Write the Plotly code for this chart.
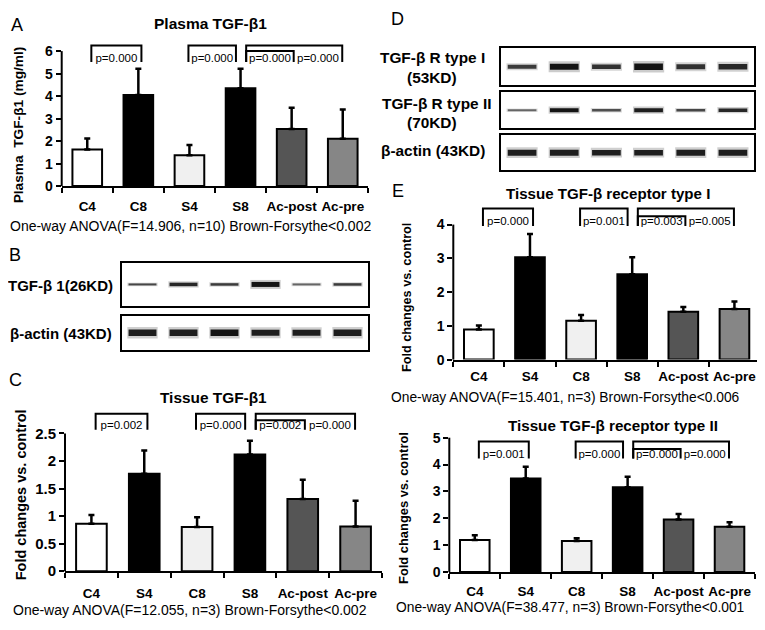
import plotly.graph_objects as go

W, H = 765, 630
FONT = "Liberation Sans"
OFFX, OFFY = 8, 8  # page body margin offset

# ---------------- data ----------------
plasma_categories = ["C4", "C8", "S4", "S8", "Ac-post", "Ac-pre"]
tissue_categories = ["C4", "S4", "C8", "S8", "Ac-post", "Ac-pre"]

plasma_tgfb1_mean = [1.63, 4.05, 1.37, 4.35, 2.54, 2.10]
plasma_tgfb1_sd = [0.49, 1.17, 0.46, 0.87, 0.94, 1.31]
plasma_pvalues = ["p=0.000", "p=0.000", "p=0.000", "p=0.000"]

tissue_tgfb1_mean = [0.86, 1.77, 0.80, 2.12, 1.31, 0.81]
tissue_tgfb1_sd = [0.16, 0.42, 0.18, 0.25, 0.35, 0.47]
tissue_tgfb1_pvalues = ["p=0.002", "p=0.000", "p=0.002", "p=0.000"]

receptor1_mean = [0.89, 3.03, 1.15, 2.53, 1.42, 1.50]
receptor1_sd = [0.12, 0.69, 0.17, 0.50, 0.14, 0.22]
receptor1_pvalues = ["p=0.000", "p=0.001", "p=0.003", "p=0.005"]

receptor2_mean = [1.19, 3.48, 1.16, 3.16, 1.96, 1.69]
receptor2_sd = [0.18, 0.44, 0.10, 0.39, 0.20, 0.16]
receptor2_pvalues = ["p=0.001", "p=0.000", "p=0.000", "p=0.000"]

# western blot band strength per lane (thickness px, darkness 0-1)
blot_tgfb1_thick = [2.0, 3.5, 2.5, 5.0, 2.0, 2.5]
blot_tgfb1_dark = [0.75, 0.9, 0.8, 1.0, 0.6, 0.8]
blot_actinB_thick = [6.5, 6.5, 6.5, 6.0, 6.0, 6.5]
blot_actinB_dark = [0.95, 0.95, 1.0, 0.95, 0.95, 0.95]
blot_r1_thick = [4.0, 6.0, 4.5, 6.5, 5.0, 5.5]
blot_r1_dark = [0.8, 1.0, 0.85, 1.0, 0.85, 0.9]
blot_r2_thick = [2.0, 4.0, 2.5, 4.0, 2.5, 3.5]
blot_r2_dark = [0.6, 1.0, 0.7, 0.95, 0.75, 0.9]
blot_actinD_thick = [6.0, 6.0, 5.5, 5.5, 6.0, 6.0]
blot_actinD_dark = [0.95, 0.95, 0.95, 0.95, 0.95, 0.95]

bar_colors = ["#ffffff", "#000000", "#f0f0f0", "#000000", "#555555", "#868686"]


def px(x):
    return (x - OFFX) / W


def py(y):
    return 1 - (y - OFFY) / H


fig = go.Figure()
shapes = []
annotations = []
layout = {}


def ann(text, x, y, size, bold=False, angle=0, xanchor="center"):
    annotations.append(dict(
        text=("<b>%s</b>" % text) if bold else text,
        x=px(x), y=py(y), xref="paper", yref="paper",
        xanchor=xanchor, yanchor="middle", showarrow=False, textangle=angle,
        font=dict(family=FONT, size=size, color="black")))


bar_panels = [
    dict(i=1, cats=plasma_categories, mean=plasma_tgfb1_mean, sd=plasma_tgfb1_sd,
         pv=plasma_pvalues, yt=[0, 1, 2, 3, 4, 5, 6], ytt=["0", "1", "2", "3", "4", "5", "6"],
         xl=61.7, xr=368.3, y0=183.3, ytm=45.0, ytv=6, yext=6.45,
         br=(6.25, 6.0, 5.52, 5.65), stand=7, yfs=14),
    dict(i=2, cats=tissue_categories, mean=tissue_tgfb1_mean, sd=tissue_tgfb1_sd,
         pv=tissue_tgfb1_pvalues, yt=[0, 0.5, 1, 1.5, 2, 2.5],
         ytt=["0", "0.5", "1", "1.5", "2", "2.5"],
         xl=65.0, xr=382.0, y0=577.7, ytm=436.7, ytv=2.5, yext=2.95,
         br=(2.86, 2.74, 2.57, 2.63), stand=9, yfs=15),
    dict(i=3, cats=tissue_categories, mean=receptor1_mean, sd=receptor1_sd,
         pv=receptor1_pvalues, yt=[0, 1, 2, 3, 4], ytt=["0", "1", "2", "3", "4"],
         xl=453.3, xr=760.0, y0=361.0, ytm=222.7, ytv=4, yext=4.6,
         br=(4.48, 4.25, 3.96, 4.08), stand=3, yfs=14),
    dict(i=4, cats=tissue_categories, mean=receptor2_mean, sd=receptor2_sd,
         pv=receptor2_pvalues, yt=[0, 1, 2, 3, 4, 5], ytt=["0", "1", "2", "3", "4", "5"],
         xl=449.3, xr=755.0, y0=578.7, ytm=441.0, ytv=5, yext=5.03,
         br=(4.86, 4.58, 4.23, 4.35), stand=6, yfs=14),
]

# bracket leg positions (category units)
B1 = (0.08, 1.06)
B2 = (1.98, 2.91)
BIN = (3.11, 4.04)
BOUT = 4.99

for p in bar_panels:
    i = p["i"]
    xname = "xaxis" if i == 1 else "xaxis%d" % i
    yname = "yaxis" if i == 1 else "yaxis%d" % i
    xr_ = "x" if i == 1 else "x%d" % i
    yr_ = "y" if i == 1 else "y%d" % i
    pos = list(range(len(p["cats"])))
    fig.add_trace(go.Bar(
        x=pos, y=p["mean"], width=0.58, xaxis=xr_, yaxis=yr_,
        marker=dict(color=bar_colors, line=dict(color="black", width=2)),
        error_y=dict(type="data", symmetric=False, array=p["sd"],
                     arrayminus=[0] * len(pos), color="black", thickness=2.5, width=3),
        showlegend=False, hoverinfo="skip"))
    top, inner, leg, ty = p["br"]
    bx = [B1[0], B1[0], B1[1], B1[1], None,
          B2[0], B2[0], B2[1], B2[1], None,
          BIN[0], BIN[0], BIN[1], BIN[1], None,
          BIN[0], BIN[0], BOUT, BOUT]
    by = [leg, top, top, leg, None,
          leg, top, top, leg, None,
          leg, inner, inner, leg, None,
          leg, top, top, leg]
    fig.add_trace(go.Scatter(x=bx, y=by, mode="lines", xaxis=xr_, yaxis=yr_,
                             line=dict(color="black", width=2), showlegend=False,
                             hoverinfo="skip"))
    tx = [(B1[0] + B1[1]) / 2, (B2[0] + B2[1]) / 2, (BIN[0] + BIN[1]) / 2,
          (BIN[1] + BOUT) / 2]
    fig.add_trace(go.Scatter(x=tx, y=[ty] * 4, text=p["pv"], mode="text",
                             xaxis=xr_, yaxis=yr_, cliponaxis=False,
                             textfont=dict(family=FONT, size=11.5, color="black"),
                             showlegend=False, hoverinfo="skip"))
    toppx = p["y0"] - (p["y0"] - p["ytm"]) * p["yext"] / p["ytv"]
    layout[xname] = dict(
        domain=[px(p["xl"]), px(p["xr"])], range=[-0.5, len(pos) - 0.5],
        anchor=yr_, tickvals=pos, ticktext=p["cats"], ticks="",
        showline=True, linecolor="black", linewidth=2, showgrid=False, zeroline=False,
        ticklabelstandoff=p["stand"],
        tickfont=dict(family=FONT, size=13.5, color="black", weight="bold"),
        minor=dict(tickvals=[k - 0.5 for k in range(len(pos) + 1)], ticks="outside",
                   ticklen=5, tickwidth=2, tickcolor="black", showgrid=False))
    layout[yname] = dict(
        domain=[py(p["y0"]), py(toppx)], range=[0, p["yext"]], anchor=xr_,
        tickvals=p["yt"], ticktext=p["ytt"], ticks="outside", ticklen=5, tickwidth=2,
        tickcolor="black", showline=False, showgrid=False, zeroline=False,
        tickfont=dict(family=FONT, size=p["yfs"], color="black", weight="bold"))
    shapes.append(dict(type="line", xref="%s domain" % xr_, yref="%s domain" % yr_,
                       x0=0, x1=0, y0=0, y1=p["ytv"] / p["yext"],
                       line=dict(color="black", width=2)))

# ---------------- blots ----------------
blots = [
    dict(i=5, thick=blot_tgfb1_thick, dark=blot_tgfb1_dark, box=(122, 368, 262, 306)),
    dict(i=6, thick=blot_actinB_thick, dark=blot_actinB_dark, box=(122, 368, 316, 351)),
    dict(i=7, thick=blot_r1_thick, dark=blot_r1_dark, box=(501, 754, 42, 80)),
    dict(i=8, thick=blot_r2_thick, dark=blot_r2_dark, box=(501, 754, 87, 124)),
    dict(i=9, thick=blot_actinD_thick, dark=blot_actinD_dark, box=(501, 754, 131, 167)),
]
for b in blots:
    i = b["i"]
    x0, x1, y0, y1 = b["box"]
    for lane, (t, d) in enumerate(zip(b["thick"], b["dark"])):
        fig.add_trace(go.Scatter(x=[lane - 0.37, lane + 0.37], y=[0, 0], mode="lines",
                                 xaxis="x%d" % i, yaxis="y%d" % i,
                                 line=dict(color="rgba(0,0,0,%.2f)" % (0.2 * d),
                                           width=t * 1.8),
                                 showlegend=False, hoverinfo="skip"))
        fig.add_trace(go.Scatter(x=[lane - 0.34, lane + 0.34], y=[0, 0], mode="lines",
                                 xaxis="x%d" % i, yaxis="y%d" % i,
                                 line=dict(color="rgba(20,20,20,%.2f)" % d, width=t),
                                 showlegend=False, hoverinfo="skip"))
    layout["xaxis%d" % i] = dict(domain=[px(x0), px(x1)], range=[-0.5, 5.5],
                                 anchor="y%d" % i, showline=True, mirror=True,
                                 linecolor="black", linewidth=2, ticks="",
                                 showticklabels=False, showgrid=False, zeroline=False)
    layout["yaxis%d" % i] = dict(domain=[py(y1), py(y0)], range=[-1, 1],
                                 anchor="x%d" % i, showline=True, mirror=True,
                                 linecolor="black", linewidth=2, ticks="",
                                 showticklabels=False, showgrid=False, zeroline=False)

# ---------------- texts ----------------
ann("A", 17, 18, 18)
ann("Plasma TGF-β1", 210, 17, 15.5, bold=True)
ann("Plasma  TGF-β1 (mg/ml)", 18, 121, 13.7, bold=True, angle=-90)
ann("One-way ANOVA(F=14.906, n=10) Brown-Forsythe<0.002", 190, 224, 14.0)

ann("B", 15, 254, 18)
ann("TGF-β 1(26KD)", 60.5, 285, 15, bold=True)
ann("β-actin (43KD)", 60.5, 334, 15, bold=True)

ann("C", 16, 382, 18)
ann("Tissue TGF-β1", 213.5, 400, 15.4, bold=True)
ann("Fold changes vs. control", 21, 500, 14.5, bold=True, angle=-90)
ann("One-way ANOVA(F=12.055, n=3) Brown-Forsythe<0.002", 190, 617, 14.0)

ann("D", 397, 12, 18)
ann("TGF-β R type I", 432, 52, 15.4, bold=True)
ann("(53KD)", 432, 72, 15.4, bold=True)
ann("TGF-β R type II", 436, 99, 15.4, bold=True)
ann("(70KD)", 432, 118, 15.4, bold=True)
ann("β-actin (43KD)", 433, 147, 15.4, bold=True)

ann("E", 398, 188, 18)
ann("Tissue TGF-β receptor type I", 608, 191, 15.1, bold=True)
ann("Fold changes vs. control", 407, 298, 12.7, bold=True, angle=-90)
ann("One-way ANOVA(F=15.401, n=3) Brown-Forsythe<0.006", 565, 400, 13.8)

ann("Tissue TGF-β receptor type II", 613, 428, 15.2, bold=True)
ann("Fold changes vs. control", 404, 513, 12.9, bold=True, angle=-90)
ann("One-way ANOVA(F=38.477, n=3) Brown-Forsythe<0.001", 570, 615, 13.8)

fig.update_layout(
    width=W, height=H, margin=dict(l=0, r=0, t=0, b=0),
    paper_bgcolor="white", plot_bgcolor="rgba(0,0,0,0)", showlegend=False,
    font=dict(family=FONT, color="black"),
    shapes=shapes, annotations=annotations, **layout)

fig.write_html("out.html")
